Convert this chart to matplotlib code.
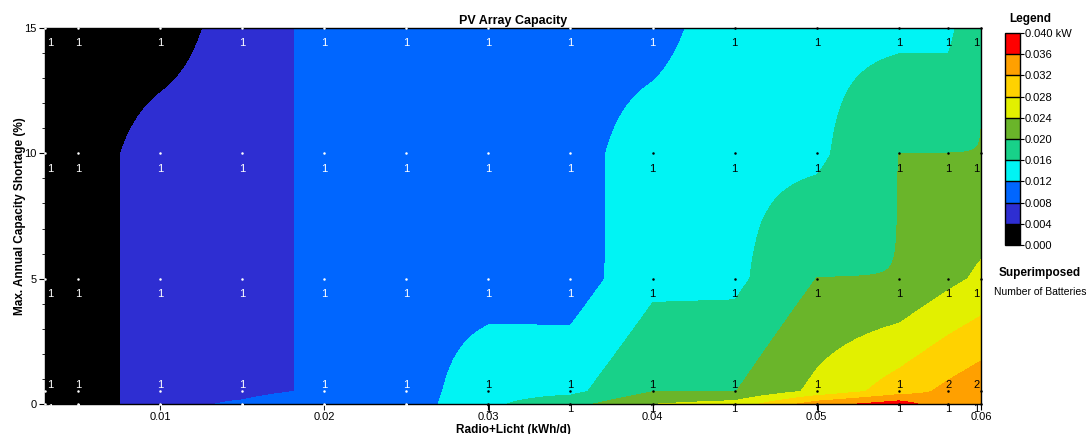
import numpy as np
import matplotlib
matplotlib.use("Agg")
import matplotlib.pyplot as plt
from matplotlib.colors import ListedColormap, BoundaryNorm
from matplotlib.cm import ScalarMappable
from matplotlib.ticker import MultipleLocator

plt.rcParams["font.family"] = ["Liberation Sans", "DejaVu Sans"]

# sensitivity grid
load = [0.003, 0.005, 0.01, 0.015, 0.02, 0.025, 0.03, 0.035, 0.04, 0.045, 0.05, 0.055, 0.058, 0.06]  # kWh/d
shortage = [0, 0.5, 5, 10, 15]  # %

# optimal PV array capacity (kW), one list per capacity shortage value
pv_short0 = [0, 0, 0.0079, 0.00805, 0.0083, 0.0100, 0.01525, 0.0185, 0.0239, 0.0255, 0.0340, 0.0380, 0.0330, 0.0330]
pv_short05 = [0, 0, 0.0079, 0.0079, 0.00806, 0.0100, 0.0146, 0.0150, 0.0199, 0.0199, 0.0250, 0.0300, 0.0330, 0.0347]
pv_short5 = [0, 0, 0.0079, 0.0079, 0.00806, 0.0107, 0.0102, 0.0099, 0.01496, 0.0151, 0.02005, 0.02005, 0.02295, 0.0247]
pv_short10 = [0, 0, 0.0079, 0.0079, 0.00806, 0.0100, 0.0100, 0.0099, 0.0149, 0.01507, 0.0152, 0.02005, 0.02005, 0.02005]
pv_short15 = [0, 0, 0.0, 0.0079, 0.00806, 0.0100, 0.0100, 0.0099, 0.0099, 0.0153, 0.0150, 0.0150, 0.0150, 0.0198]

# superimposed number of batteries
bat_short0 = [1] * 14
bat_short05 = [1] * 12 + [2, 2]
bat_short5 = [1] * 14
bat_short10 = [1] * 14
bat_short15 = [1] * 14

levels = [0.000, 0.004, 0.008, 0.012, 0.016, 0.020, 0.024, 0.028, 0.032, 0.036, 0.040]
colors = ["#000000", "#2e2ed2", "#0066ff", "#00f4f4", "#18d189",
          "#6ab52a", "#e2f000", "#ffd200", "#ffa000", "#ff0000"]

pv = np.array([pv_short0, pv_short05, pv_short5, pv_short10, pv_short15])
bats = np.array([bat_short0, bat_short05, bat_short5, bat_short10, bat_short15])

# bilinear surface like HOMER draws it
xs = np.linspace(load[0], load[-1], 936)
ys = np.linspace(shortage[0], shortage[-1], 377)
along_x = np.array([np.interp(xs, load, row) for row in pv])
surface = np.array([np.interp(ys, shortage, along_x[:, j]) for j in range(len(xs))]).T

cmap = ListedColormap(colors)
cmap.set_over(colors[-1])
norm = BoundaryNorm(levels, cmap.N, clip=True)

fig = plt.figure(figsize=(10.9, 4.34), dpi=100)
ax = fig.add_axes([45 / 1090, 1 - 404 / 434, 936 / 1090, 376 / 434])
ax.imshow(surface, origin="lower", extent=[load[0], load[-1], shortage[0], shortage[-1]],
          aspect="auto", cmap=cmap, norm=norm, interpolation="nearest")
ax.set_xlim(load[0], load[-1])
ax.set_ylim(shortage[0], shortage[-1])

# points and battery labels
dy_pts = {0: -3.6, 1: 4.3, 2: -11, 3: -11, 4: -11}
for i, yv in enumerate(shortage):
    for j, xv in enumerate(load):
        c = "white" if pv[i, j] < 0.012 else "black"
        ax.plot(xv, yv, "o", ms=1.8, color=c, mec="none", clip_on=False, zorder=4)
        dx = 4 if j == 0 else (-3.5 if j == len(load) - 1 else 0)
        ax.annotate(str(bats[i, j]), (xv, yv), xytext=(dx, dy_pts[i]), textcoords="offset points",
                    ha="center", va="center", fontsize=8, color=c, annotation_clip=False, zorder=5)

ax.set_xticks([0.01, 0.02, 0.03, 0.04, 0.05, 0.06])
ax.set_xticklabels(["0.01", "0.02", "0.03", "0.04", "0.05", "0.06"])
ax.set_yticks([0, 5, 10, 15])
ax.yaxis.set_minor_locator(MultipleLocator(1))
ax.tick_params(axis="both", which="major", labelsize=8, length=4, width=0.8, pad=2)
ax.tick_params(axis="y", which="minor", length=2, width=0.6)
for s in ax.spines.values():
    s.set_linewidth(1)
ax.set_title("PV Array Capacity", fontsize=9, fontweight="bold", pad=3)
ax.set_xlabel("Radio+Licht (kWh/d)", fontsize=8.5, fontweight="bold", labelpad=1)
ax.set_ylabel("Max. Annual Capacity Shortage (%)", fontsize=8.5, fontweight="bold", labelpad=-1)

# legend colour bar
cax = fig.add_axes([1005 / 1090, 1 - 245 / 434, 15 / 1090, 212 / 434])
cb = fig.colorbar(ScalarMappable(norm=norm, cmap=cmap), cax=cax, ticks=levels, drawedges=True)
cb.outline.set_linewidth(1)
cb.dividers.set_linewidth(1)
cb.ax.set_yticklabels([f"{v:.3f}" for v in levels[:-1]] + [f"{levels[-1]:.3f} kW"])
cb.ax.tick_params(labelsize=8, length=3, width=0.8, pad=0.5)
fig.text(1030 / 1090, 1 - 19 / 434, "Legend", ha="center", va="center", fontsize=8.5, fontweight="bold")
fig.text(1040 / 1090, 1 - 273 / 434, "Superimposed", ha="center", va="center", fontsize=8.5, fontweight="bold")
fig.text(1040 / 1090, 1 - 292 / 434, "Number of Batteries", ha="center", va="center", fontsize=7.5)

fig.savefig("out.png", dpi=100)
